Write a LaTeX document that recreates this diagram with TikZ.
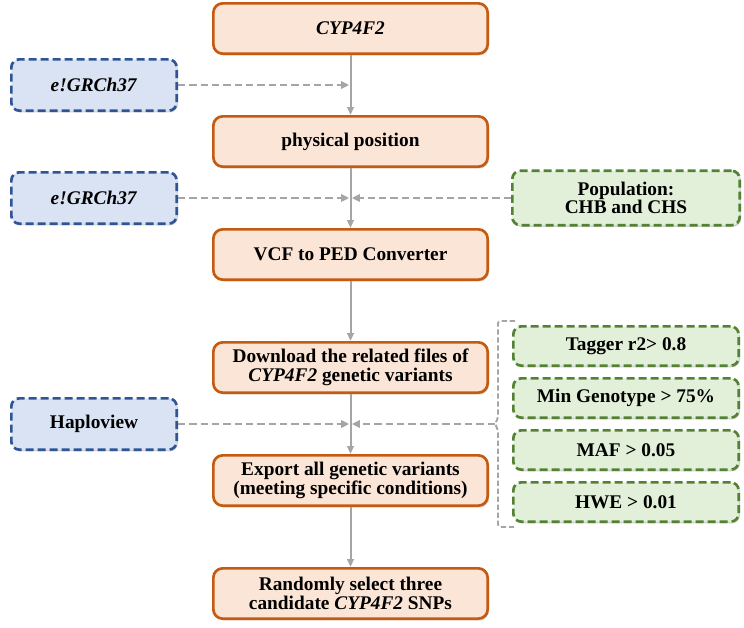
\documentclass[tikz,border=0pt]{standalone}
\usepackage{fontspec}
\setmainfont{Liberation Serif}
\usepackage{tikz}
\usetikzlibrary{arrows.meta, positioning, calc, shadows}

\definecolor{stepline}{RGB}{197,90,17}
\definecolor{stepfill}{RGB}{251,229,214}
\definecolor{toolline}{RGB}{47,85,151}
\definecolor{toolfill}{RGB}{218,227,243}
\definecolor{condline}{RGB}{84,130,53}
\definecolor{condfill}{RGB}{226,240,217}
\definecolor{linkgray}{RGB}{165,165,165}

\begin{document}
\begin{tikzpicture}[
            x=0.75pt, y=-0.75pt,
            node distance=45pt and 25.5pt,
            font=\fontsize{14.5}{14}\selectfont\bfseries,
            boxshadow/.style={drop shadow={shadow xshift=1pt, shadow yshift=-1.3pt, opacity=0.28, fill=black!60}},
            stepbox/.style={draw=stepline, fill=stepfill, line width=2pt, rectangle, rounded corners=7pt,
                minimum width=205.75pt, minimum height=37.75pt, align=center, boxshadow},
            toolbox/.style={draw=toolline, fill=toolfill, line width=2pt, dash pattern=on 6pt off 3pt,
                rounded corners=6pt, minimum width=124pt, minimum height=38.5pt, align=center, boxshadow},
            condbox/.style={draw=condline, fill=condfill, line width=2pt, dash pattern=on 6pt off 3pt,
                rounded corners=6pt, minimum width=169pt, minimum height=29.5pt, align=center, boxshadow},
            link/.style={draw=linkgray, line width=1.5pt, -{Triangle[length=6pt, width=5pt]}},
            dlink/.style={draw=linkgray, line width=2pt, dash pattern=on 5.5pt off 3pt,
                -{Triangle[length=6pt, width=5.5pt]}, shorten >=1pt},
            bracket/.style={draw=linkgray, line width=1.4pt, dash pattern=on 4pt off 2pt, rounded corners=2pt},
            >=Stealth
        ]
            \useasboundingbox (0,0) rectangle (744,628);

            % main steps
            \node[stepbox] (gene) at (350.5,28.5) {\textit{CYP4F2}};
            \node[stepbox, below=of gene] (pos) {physical position};
            \node[stepbox, below=of pos] (conv) {VCF to PED Converter};
            \node[stepbox, below=of conv] (dl) {Download the related files of\\\textit{CYP4F2} genetic variants};
            \node[stepbox, below=of dl] (exp) {Export all genetic variants\\(meeting specific conditions)};
            \node[stepbox, below=of exp] (sel) {Randomly select three\\candidate \textit{CYP4F2} SNPs};

            % midpoints of the links
            \coordinate (m1) at ($(gene.south)!0.5!(pos.north)$);
            \coordinate (m2) at ($(pos.south)!0.5!(conv.north)$);
            \coordinate (m4) at ($(dl.south)!0.5!(exp.north)$);
            \coordinate (w1) at (m1 -| gene.west);
            \coordinate (w2) at (m2 -| pos.west);
            \coordinate (e2) at (m2 -| pos.east);
            \coordinate (w4) at (m4 -| dl.west);
            \coordinate (e4) at (m4 -| dl.east);

            % tools
            \node[toolbox, left=of w1] (ens1) {\textit{e!GRCh37}};
            \node[toolbox, left=of w2] (ens2) {\textit{e!GRCh37}};
            \node[toolbox, left=of w4] (hap) {Haploview};

            % conditions
            \node[condbox, right=16.5pt of e2, minimum width=170.5pt, minimum height=40.8pt] (pop) {Population:\\CHB and CHS};
            \node[condbox, above right=3.75pt and 17.25pt of e4] (geno) {Min Genotype > 75\%};
            \node[condbox, above=7.5pt of geno] (tag) {Tagger r2> 0.8};
            \node[condbox, below=7.5pt of geno] (maf) {MAF > 0.05};
            \node[condbox, below=7.5pt of maf] (hwe) {HWE > 0.01};

            % bracket round the conditions
            \coordinate (bt) at ($(tag.north west)+(-14,-4)$);
            \coordinate (bb) at ($(hwe.south west)+(-14,4)$);
            \coordinate (bn) at ($(e4)+(6,0)$);
            \draw[bracket] ($(bt)+(17,0)$) -- (bt) -- ($(bt |- bn)+(0,-6)$) -- (bn)
                -- ($(bt |- bn)+(0,6)$) -- (bb) -- ($(bb)+(17,0)$);

            % Edges
            \draw[link] (gene) -- (pos);
            \draw[link] (pos) -- (conv);
            \draw[link] (conv) -- (dl);
            \draw[link] (dl) -- (exp);
            \draw[link] (exp) -- (sel);

            \draw[dlink] (ens1) -- (m1);
            \draw[dlink] (ens2) -- (m2);
            \draw[dlink] (pop) -- (m2);
            \draw[dlink] (hap) -- (m4);
            \draw[dlink] (bn) -- (m4);
        \end{tikzpicture}
\end{document}
